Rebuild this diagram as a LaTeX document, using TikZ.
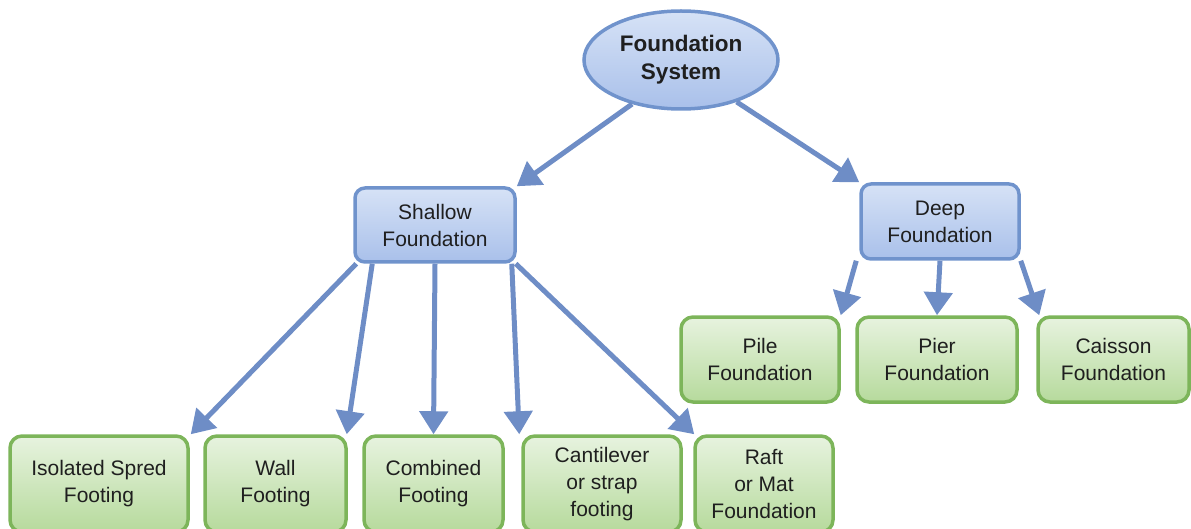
\documentclass[tikz,border=0pt]{standalone}
\usepackage{fontspec}
\setmainfont{Liberation Sans}
\usepackage{xcolor}
\usetikzlibrary{arrows.meta,shapes.geometric}
\definecolor{bluline}{HTML}{7093CC}
\definecolor{blutop}{HTML}{D6E2F6}
\definecolor{blubot}{HTML}{A9C0EA}
\definecolor{grnline}{HTML}{7DB55A}
\definecolor{grntop}{HTML}{E7F3DF}
\definecolor{grnbot}{HTML}{B6DA9C}
\definecolor{arrcol}{HTML}{6E8DC6}
\begin{document}
\begin{tikzpicture}[x=1pt, y=-1pt, every node/.style={font=\fontsize{21}{27}\selectfont, text=black!88, align=center, inner sep=0pt}, rootnode/.style={ellipse, draw=bluline, line width=3.5pt, top color=blutop, bottom color=blubot, minimum width=194pt, minimum height=98pt, font=\fontsize{22.5}{28}\selectfont\bfseries}, blubox/.style={draw=bluline, line width=3.5pt, rounded corners=10pt, top color=blutop, bottom color=blubot}, grnbox/.style={draw=grnline, line width=3.5pt, rounded corners=12pt, top color=grntop, bottom color=grnbot}, arr/.style={-{Triangle[length=23pt,width=28pt]}, line width=5pt, arrcol}]
\useasboundingbox (0,0) rectangle (1191,529);
\node[rootnode] (root) at (681,60) {Foundation\\System};
\node[blubox, minimum width=160pt, minimum height=74pt] (shallow) at (435,225) {Shallow\\Foundation};
\node[blubox, minimum width=158pt, minimum height=75pt] (deep) at (940,221.5) {Deep\\Foundation};
\node[grnbox, minimum width=178pt, minimum height=96pt] (iso) at (99,484) {Isolated Spred\\Footing};
\node[grnbox, minimum width=141pt, minimum height=96pt] (wall) at (275.5,484) {Wall\\Footing};
\node[grnbox, minimum width=139pt, minimum height=96pt] (comb) at (433.5,484) {Combined\\Footing};
\node[grnbox, minimum width=158pt, minimum height=96pt] (cant) at (602,484) {Cantilever\\or strap\\footing};
\node[grnbox, minimum width=138pt, minimum height=96pt] (raft) at (764,484) {Raft\\or Mat\\Foundation};
\node[grnbox, minimum width=158pt, minimum height=85pt] (pile) at (760,359.5) {Pile\\Foundation};
\node[grnbox, minimum width=160pt, minimum height=85pt] (pier) at (937,359.5) {Pier\\Foundation};
\node[grnbox, minimum width=151pt, minimum height=85pt] (caisson) at (1113.5,359.5) {Caisson\\Foundation};
\draw[arr] (root.222)--(shallow.north east); \draw[arr] (root.-37)--(deep.north west);
\draw[arr] ([xshift=3pt]shallow.south west)--([xshift=1pt]iso.north east);
\draw[arr] ([xshift=19pt]shallow.south west)--([xshift=-1pt]wall.north east);
\draw[arr] (shallow.south)--(comb.north);
\draw[arr] ([xshift=-5pt]shallow.south east)--([xshift=-2pt]cant.north west);
\draw[arr] ([xshift=-1pt]shallow.south east)--([xshift=1pt]raft.north west);
\draw[arr] ([xshift=-3pt]deep.south west)--(pile.north east);
\draw[arr] (deep.south)--(pier.north); \draw[arr] (deep.south east)--([xshift=3pt]caisson.north west);
\end{tikzpicture}
\end{document}
